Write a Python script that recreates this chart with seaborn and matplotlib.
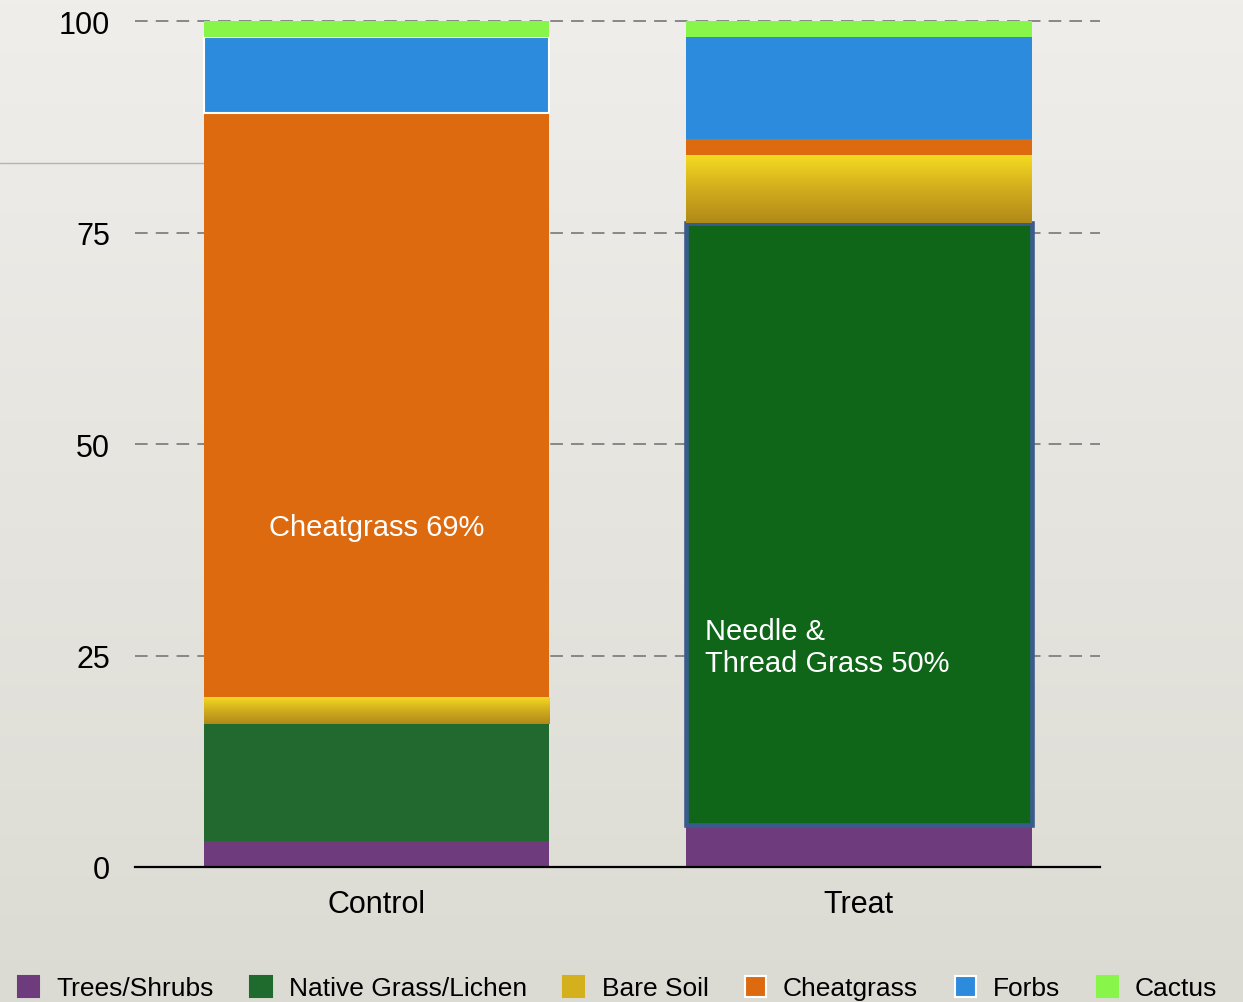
import numpy as np
import pandas as pd
import matplotlib
matplotlib.use("Agg")
import matplotlib.pyplot as plt
from matplotlib.patches import Patch
from matplotlib.lines import Line2D
from matplotlib.colors import LinearSegmentedColormap
import seaborn as sns

# ---- data ----
groups = ["Control", "Treat"]
categories = ["Trees/Shrubs", "Native Grass/Lichen", "Bare Soil", "Cheatgrass", "Forbs", "Cactus"]
trees_shrubs = [3.1, 5.0]
native_grass = [13.8, 71.1]
bare_soil = [3.2, 8.1]
cheatgrass = [69.0, 1.9]
forbs = [9.0, 12.0]
cactus = [1.9, 1.9]
series_values = [trees_shrubs, native_grass, bare_soil, cheatgrass, forbs, cactus]
yticks = [0, 25, 50, 75, 100]
annot_control = "Cheatgrass 69%"
annot_treat = "Needle &\nThread Grass 50%"

colors = {
    "Trees/Shrubs": ["#6e3c7c", "#6e3c7c"],
    "Native Grass/Lichen": ["#21692e", "#0f6619"],
    "Bare Soil": ["#d4b01c", "#d4b01c"],
    "Cheatgrass": ["#dd6a0f", "#dd6a0f"],
    "Forbs": ["#2d8bde", "#2d8bde"],
    "Cactus": ["#87f54a", "#87f54a"],
}
legend_colors = ["#6e3c7c", "#1f6a2d", "#d4b01c", "#dd6a0f", "#2d8bde", "#87f54a"]
edges = {
    "Native Grass/Lichen": (["none", "#3a5c8c"], [0, 3.3]),
    "Forbs": (["white", "none"], [1.5, 0]),
}

sns.set_theme(style="white")
plt.rcParams["font.family"] = ["Liberation Sans", "DejaVu Sans"]
plt.rcParams["text.color"] = "black"

fig = plt.figure(figsize=(12.43, 10.03), dpi=100)

# background gradient
bg = fig.add_axes([0, 0, 1, 1], zorder=-10)
grad = np.linspace(0, 1, 256).reshape(-1, 1)
bgcmap = LinearSegmentedColormap.from_list("bg", ["#efeeeb", "#dcdbd3"])
bg.imshow(grad, aspect="auto", cmap=bgcmap, extent=[0, 1, 0, 1])
bg.set_axis_off()

# decorative thin line at left
fig.add_artist(Line2D([0, 0.164], [0.8365, 0.8365], color="#b5b5b0", lw=1.0,
                      transform=fig.transFigure, zorder=-5))

ax = fig.add_axes([0.1086, 0.1346, 0.7764, 0.8434])
ax.patch.set_alpha(0)

bottoms = np.zeros(len(groups))
bar_containers = {}
for cat, vals in zip(categories, series_values):
    df = pd.DataFrame({"group": groups, "value": vals})
    n_before = len(ax.patches)
    sns.barplot(data=df, x="group", y="value", order=groups, ax=ax,
                bottom=list(bottoms), width=0.716, saturation=1,
                color=colors[cat][0], zorder=2, linewidth=0)
    new = ax.patches[n_before:]
    for i, (p, c) in enumerate(zip(new, colors[cat])):
        p.set_facecolor(c)
        if cat in edges:
            p.set_edgecolor(edges[cat][0][i])
            p.set_linewidth(edges[cat][1][i])
        else:
            p.set_linewidth(0)
    bar_containers[cat] = new
    bottoms = bottoms + np.array(vals)

# gradient for bare soil
soil_cmap = LinearSegmentedColormap.from_list("soil", ["#b08a18", "#d2ad1d", "#f5dc22"])
for p in bar_containers["Bare Soil"]:
    x0, y0 = p.get_x(), p.get_y()
    w, h = p.get_width(), p.get_height()
    im = ax.imshow(np.linspace(0, 1, 100).reshape(-1, 1), cmap=soil_cmap, aspect="auto",
                   extent=[x0, x0 + w, y0, y0 + h], origin="lower", zorder=2.5)
    im.set_clip_path(p)

ax.set_xlim(-0.5, 1.5)
ax.set_ylim(0, 100)
ax.set_yticks(yticks)
ax.set_yticklabels([str(t) for t in yticks])
ax.set_xlabel("")
ax.set_ylabel("")
ax.tick_params(axis="y", length=0, pad=18, labelsize=22, labelcolor="black")
ax.tick_params(axis="x", length=0, pad=16, labelsize=22, labelcolor="black")

for t in yticks[1:]:
    ax.axhline(t, color="#808080", lw=1.3, ls=(0, (7, 4.5)), zorder=1, clip_on=False)

for s in ["top", "right", "left"]:
    ax.spines[s].set_visible(False)
ax.spines["bottom"].set_color("black")
ax.spines["bottom"].set_linewidth(1.6)
ax.spines["bottom"].set_zorder(3)

ax.text(0, 40.2, annot_control, color="white", fontsize=21, ha="center", va="center", zorder=5)
ax.text(1 - 0.319, 26.0, annot_treat, color="white", fontsize=21, ha="left", va="center",
        linespacing=1.2, zorder=5)

handles = []
for cat, col in zip(categories, legend_colors):
    ec = "white" if cat in ("Cheatgrass", "Forbs") else col
    handles.append(Patch(facecolor=col, edgecolor=ec, linewidth=1.5))
fig.legend(handles, categories, loc="lower center", bbox_to_anchor=(0.497, -0.014), ncol=6,
           frameon=False, fontsize=19, handlelength=0.8, handleheight=0.85,
           handletextpad=0.65, columnspacing=1.38, borderaxespad=0.2, labelcolor="black")

fig.savefig("out.png", dpi=100)
